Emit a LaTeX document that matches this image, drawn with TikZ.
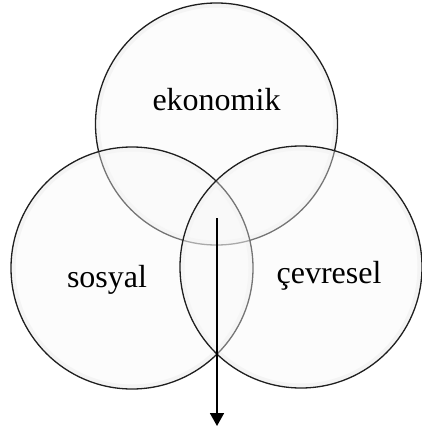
\documentclass[tikz,border=0pt]{standalone}
\usepackage{fontspec}
\setmainfont{Liberation Serif}
\usepackage{tikz}
\usetikzlibrary{arrows.meta,positioning}

\begin{document}
\begin{tikzpicture}[x=1pt,y=-1pt,
  font=\fontsize{32}{38}\selectfont,
  ring/.style={circle,draw=black!88,line width=1.3pt,fill=black!3,fill opacity=0.4,
    minimum size=242pt,inner sep=0pt},
  glow/.style={circle,draw=black!5,line width=4pt,minimum size=237pt,inner sep=0pt},
  label/.style={text=black,inner sep=1pt},
  flow/.style={-{Triangle[length=13pt,width=14pt]},draw=black,line width=1.8pt}]
\useasboundingbox (0,0) rectangle (421,433);
\node[glow] at (216.5,124) {};
\node[glow] at (132,268) {};
\node[glow] at (301,267) {};
\node[ring] (eko) at (216.5,124) {};
\node[ring] (sos) at (132,268) {};
\node[ring] (cev) at (301,267) {};
\node[label] (eko_txt) at (216.5,100) {ekonomik};
\node[label] (sos_txt) at (107,280) {sosyal};
\node[label] (cev_txt) at (329,276) {çevresel};

\coordinate (core) at (217,218);
\coordinate (out) at (217,426);
\draw[flow] (core)--(out);
\end{tikzpicture}
\end{document}
